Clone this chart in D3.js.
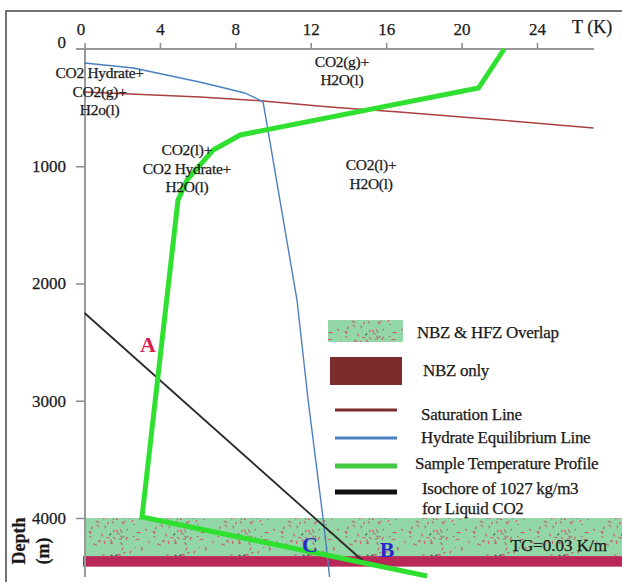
<!DOCTYPE html>
<html><head><meta charset="utf-8">
<script src="https://cdn.jsdelivr.net/npm/d3@7"></script>
<style>body{margin:0;background:#fff} svg{display:block} text{font-family:"Liberation Serif","Times New Roman",serif;fill:#1a1a1a;stroke:#1a1a1a;stroke-width:0.25px}</style>
</head><body><script>
// ---- data ----
const xTicks = [0, 4, 8, 12, 16, 20, 24];
const yTicks = [0, 1000, 2000, 3000, 4000];
const hydrateT = [0, 2.6, 6.1, 7.2, 8.5, 9.3, 9.47, 9.73, 11.27, 11.86, 12.65, 13.0];
const hydrateD = [119, 162, 281, 324, 375, 435, 452, 691, 2141, 2994, 4000, 4503];
const saturationT = [0, 6.13, 9.47, 13.0, 16.7, 22.0, 27.0];
const saturationD = [367, 409, 443, 495, 537, 605, 674];
const profileT = [22.26, 20.9, 8.26, 6.83, 5.44, 4.96, 3.05, 18.17];
const profileD = [0, 333, 733, 861, 1117, 1288, 3991, 4495];
const isochoreT = [0, 14.77];
const isochoreD = [2252, 4367];
const zoneDepths = [4000, 4325, 4415]; // overlap top, NBZ top, NBZ bottom
const regionLabels = [
  {t: 0.8, d: 250, lines: ["CO2 Hydrate+", "CO2(g)+", "H2o(l)"]},
  {t: 13.65, d: 152, lines: ["CO2(g)+", "H2O(l)"]},
  {t: 5.43, d: 905, lines: ["CO2(l)+", "CO2 Hydrate+", "H2O(l)"]},
  {t: 15.2, d: 1035, lines: ["CO2(l)+", "H2O(l)"]}
];
const pointLabels = [
  {name: "A", t: 3.37, d: 2580, color: "#dc1e50"},
  {name: "C", t: 11.96, d: 4290, color: "#2a2ac8"},
  {name: "B", t: 16.05, d: 4330, color: "#2a2ac8"}
];
const legendLabels = ["NBZ & HFZ Overlap", "NBZ only", "Saturation Line", "Hydrate Equilibrium Line", "Sample Temperature Profile", ["Isochore of 1027 kg/m3", "for Liquid CO2"]];

// ---- setup ----
const W = 622, H = 582;
const svg = d3.select("body").append("svg").attr("width", W).attr("height", H);
const x = d3.scaleLinear().domain([0, 24]).range([84.5, 537]);
const y = d3.scaleLinear().domain([0, 4000]).range([49, 518]);

// speckle pattern (decorative texture)
const defs = svg.append("defs");
const pat = defs.append("pattern").attr("id", "speck").attr("patternUnits", "userSpaceOnUse")
  .attr("width", 64).attr("height", 40);
pat.append("rect").attr("width", 64).attr("height", 40).attr("fill", "#93d6a8");
let seed = 7;
const rnd = () => { seed = (seed * 16807) % 2147483647; return seed / 2147483647; };
for (let i = 0; i < 60; i++) {
  const px = rnd() * 64, py = rnd() * 40, a = rnd() * Math.PI, l = 1.5 + rnd() * 2.5;
  pat.append("line").attr("x1", px).attr("y1", py)
    .attr("x2", px + Math.cos(a) * l).attr("y2", py + Math.sin(a) * l)
    .attr("stroke", i % 10 === 0 ? "#333" : "#d4485a").attr("stroke-width", 1.1).attr("opacity", 0.85);
}

// frame
svg.append("path").attr("d", `M6,${H} V11 H${W}`).attr("fill", "none").attr("stroke", "#444").attr("stroke-width", 1.5);

// zones
svg.append("rect").attr("x", 85).attr("y", y(zoneDepths[0])).attr("width", W - 85)
  .attr("height", y(zoneDepths[1]) - y(zoneDepths[0])).attr("fill", "url(#speck)");
svg.append("rect").attr("x", 83).attr("y", y(zoneDepths[1])).attr("width", W - 83)
  .attr("height", y(zoneDepths[2]) - y(zoneDepths[1])).attr("fill", "#b82758");

// axes
const gx = svg.append("g").attr("transform", `translate(0,${y(0)})`)
  .call(d3.axisTop(x).tickValues(xTicks).tickSize(6).tickSizeOuter(0).tickPadding(8));
gx.select(".domain").remove();
gx.selectAll(".tick line").attr("stroke", "#888").attr("stroke-width", 1.5);
gx.selectAll(".tick text").attr("font-size", 17).attr("font-family", "Liberation Serif").attr("fill", "#1a1a1a");
gx.selectAll(".tick text").filter(d => d === 0).attr("dx", "-4");
svg.append("line").attr("x1", 76).attr("x2", 594).attr("y1", y(0)).attr("y2", y(0)).attr("stroke", "#999").attr("stroke-width", 2);

const gy = svg.append("g").attr("transform", `translate(85,0)`)
  .call(d3.axisLeft(y).tickValues(yTicks).tickFormat(d3.format("d")).tickSize(9).tickSizeOuter(0).tickPadding(10));
gy.select(".domain").remove();
gy.selectAll(".tick line").attr("stroke", "#888").attr("stroke-width", 1.5);
gy.selectAll(".tick text").attr("font-size", 17).attr("font-family", "Liberation Serif").attr("fill", "#1a1a1a");
gy.selectAll(".tick text").filter(d => d === 0).attr("dy", "-0.1em");
gy.selectAll(".tick line").filter(d => d === 0).remove();
svg.append("line").attr("x1", 85).attr("x2", 85).attr("y1", y(0)).attr("y2", 577).attr("stroke", "#999").attr("stroke-width", 2);

svg.append("text").attr("x", 572).attr("y", 33).attr("font-size", 18).text("T (K)");
svg.append("text").attr("transform", "translate(25,541) rotate(-90)").attr("text-anchor", "middle")
  .attr("font-size", 18).attr("font-weight", "bold").text("Depth");
svg.append("text").attr("transform", "translate(49,551) rotate(-90)").attr("text-anchor", "middle")
  .attr("font-size", 18).attr("font-weight", "bold").text("(m)");

// lines
const line = d3.line().x(d => x(d[0])).y(d => y(d[1]));
const zip = (a, b) => a.map((v, i) => [v, b[i]]);
svg.append("path").datum(zip(saturationT, saturationD)).attr("d", line)
  .attr("fill", "none").attr("stroke", "#a8403f").attr("stroke-width", 1.4);
svg.append("path").datum(zip(hydrateT, hydrateD)).attr("d", line)
  .attr("fill", "none").attr("stroke", "#4b7fc0").attr("stroke-width", 1.4);
svg.append("path").datum(zip(isochoreT, isochoreD)).attr("d", line)
  .attr("fill", "none").attr("stroke", "#2a2a2a").attr("stroke-width", 1.8);
svg.append("path").datum(zip(profileT, profileD)).attr("d", line)
  .attr("fill", "none").attr("stroke", "#30e030").attr("stroke-width", 5).attr("stroke-linejoin", "miter");

// region labels
regionLabels.forEach(r => {
  const t = svg.append("text").attr("text-anchor", "middle").attr("font-size", 15.5).attr("letter-spacing", -0.3);
  r.lines.forEach((s, i) => t.append("tspan").attr("x", x(r.t)).attr("y", y(r.d) + i * 18.5).text(s));
});
pointLabels.forEach(p => {
  svg.append("text").attr("x", x(p.t)).attr("y", y(p.d)).attr("text-anchor", "middle")
    .attr("font-size", 22).attr("font-weight", "bold").style("fill", p.color).style("stroke", "none").text(p.name);
});
svg.append("text").attr("x", 607).attr("y", 551).attr("text-anchor", "end").attr("font-size", 17).text("TG=0.03 K/m");

// legend
const lg = svg.append("g");
lg.append("rect").attr("x", 328).attr("y", 320).attr("width", 75).attr("height", 22).attr("fill", "url(#speck)");
lg.append("rect").attr("x", 330).attr("y", 357).attr("width", 72).attr("height", 28).attr("fill", "#7b2b29");
const legLines = [
  {y: 410, c: "#7b2b29", w: 3},
  {y: 438, c: "#4b7fc0", w: 3},
  {y: 466, c: "#44c844", w: 5},
  {y: 492, c: "#111", w: 5}
];
legLines.forEach(l => lg.append("line").attr("x1", 335).attr("x2", 397).attr("y1", l.y).attr("y2", l.y)
  .attr("stroke", l.c).attr("stroke-width", l.w));
const legText = [
  {x: 417, y: 338}, {x: 423, y: 376}, {x: 421, y: 420}, {x: 421, y: 443}, {x: 415, y: 469}, {x: 422, y: 494}
];
legendLabels.forEach((s, i) => {
  const t = lg.append("text").attr("font-size", 17).attr("letter-spacing", -0.3);
  const arr = Array.isArray(s) ? s : [s];
  arr.forEach((v, j) => t.append("tspan").attr("x", legText[i].x).attr("y", legText[i].y + j * 20).text(v));
});
</script></body></html>
